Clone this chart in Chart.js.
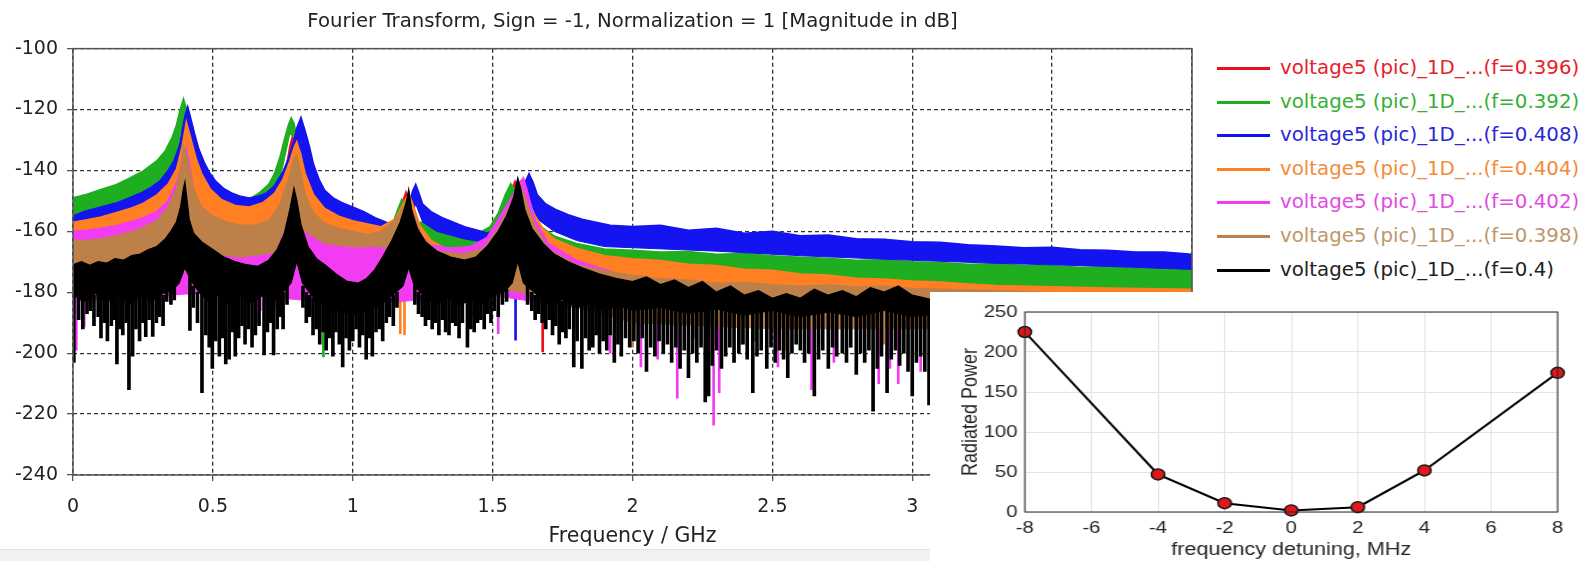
<!DOCTYPE html>
<html>
<head>
<meta charset="utf-8">
<title>Fourier Transform - voltage5</title>
<script src="https://cdn.jsdelivr.net/npm/chart.js@4.4.1/dist/chart.umd.min.js"></script>
<style>
  html, body { margin: 0; padding: 0; background: #fff; }
  body { width: 1580px; height: 561px; position: relative; overflow: hidden; }
  #spectrum { position: absolute; left: 0; top: 0; }
  #legend { position: absolute; left: 1217px; top: 0; font-family: "DejaVu Sans", sans-serif; font-size: 19.8px; }
  .item { position: absolute; left: 0; height: 24px; line-height: 24px; white-space: nowrap; }
  .swatch { position: absolute; left: 0; top: 11px; width: 53px; height: 3px; }
  .text { position: absolute; left: 63px; top: 0; }
  #inset { position: absolute; left: 930px; top: 292px; width: 650px; height: 269px; background: #fff; overflow: hidden; }
  #detuning { position: absolute; left: 0; top: 0; transform: scaleX(1.2); transform-origin: 0 0; }
  #strip { position: absolute; left: 0; top: 549px; width: 930px; height: 12px; background: #f1f1f1; border-top: 1px solid #e2e2e2; }
</style>
</head>
<body>
<canvas id="spectrum" width="1200" height="561"></canvas>
<div id="legend"></div>
<div id="strip"></div>
<div id="inset"><canvas id="detuning" width="542" height="269"></canvas></div>
<script>
// ---- spectrum data: [frequency GHz, magnitude dB] ----
const seriesLabels = [
  'voltage5 (pic)_1D_...(f=0.396)',
  'voltage5 (pic)_1D_...(f=0.392)',
  'voltage5 (pic)_1D_...(f=0.408)',
  'voltage5 (pic)_1D_...(f=0.404)',
  'voltage5 (pic)_1D_...(f=0.402)',
  'voltage5 (pic)_1D_...(f=0.398)',
  'voltage5 (pic)_1D_...(f=0.4)'
];
const seriesColors = ['#e8101a', '#1fae1f', '#1414f0', '#ff7f22', '#f23cf2', '#bd8048', '#000000'];
const labelColors  = ['#e8202a', '#35b035', '#2828d8', '#f58a3a', '#e24ae2', '#c0966a', '#222222'];

// upper edge of each trace
const redTop = [[0,-160],[0.2,-156],[0.3,-151],[0.36,-143],[0.385,-131],[0.395,-126],[0.405,-129],[0.43,-140],[0.5,-152],[0.65,-155],[0.72,-151],[0.76,-140],[0.775,-132],[0.785,-128.5],[0.795,-131],[0.82,-142],[0.88,-155],[1.1,-161],[1.16,-155],[1.19,-147],[1.205,-151],[1.25,-163],[1.45,-167],[1.52,-158],[1.56,-148],[1.58,-143.5],[1.6,-147],[1.65,-158],[1.8,-168],[2.0,-171],[3.0,-178],[4.0,-181]];
const greenTop = [[0,-149],[0.05,-147.8],[0.1,-146.2],[0.15,-144.8],[0.2,-142.6],[0.25,-140.2],[0.3,-136.8],[0.33,-133.5],[0.355,-129],[0.37,-125],[0.383,-120],[0.395,-116.5],[0.405,-119.5],[0.415,-125],[0.43,-133],[0.45,-140],[0.48,-146],[0.52,-150],[0.58,-151],[0.63,-149.5],[0.67,-147],[0.7,-144.5],[0.72,-141],[0.74,-135.5],[0.755,-130],[0.77,-125],[0.78,-122.7],[0.79,-124.5],[0.8,-129],[0.82,-137],[0.85,-148],[0.9,-156],[1.0,-159],[1.1,-160.5],[1.14,-158],[1.16,-153],[1.175,-149.5],[1.19,-152],[1.21,-157],[1.25,-157],[1.3,-157.5],[1.35,-158.5],[1.4,-159],[1.45,-160.5],[1.49,-158.5],[1.52,-154],[1.545,-148],[1.565,-144.3],[1.58,-146.5],[1.6,-151],[1.65,-157],[1.72,-161.5],[1.8,-164],[1.9,-165.8],[2.0,-166.2],[2.1,-166.8],[2.2,-166.6],[2.3,-167.5],[2.4,-167.3],[2.5,-168],[2.6,-168.5],[2.7,-168.8],[2.8,-169.5],[2.9,-169.3],[3.0,-170],[3.1,-170.2],[3.2,-170.8],[3.3,-170.6],[3.4,-171.2],[3.5,-171.3],[3.6,-171.8],[3.7,-171.6],[3.8,-172.2],[3.9,-172],[4.0,-172.5]];
const blueTop = [[0,-155],[0.04,-153.5],[0.08,-152.5],[0.12,-151.5],[0.16,-150.5],[0.2,-149],[0.24,-147.5],[0.28,-145.5],[0.31,-143.5],[0.34,-140],[0.36,-137],[0.38,-132],[0.39,-127],[0.4,-122],[0.41,-119],[0.42,-122.5],[0.435,-128],[0.45,-133],[0.47,-137.5],[0.49,-141],[0.51,-143.5],[0.54,-146],[0.57,-147.5],[0.6,-148.5],[0.63,-149],[0.66,-148.5],[0.69,-147.5],[0.72,-145],[0.75,-140.5],[0.77,-136],[0.79,-130],[0.8,-126],[0.815,-122.5],[0.83,-127],[0.845,-132],[0.86,-138],[0.88,-143],[0.9,-146.5],[0.93,-149],[0.96,-150.5],[1.0,-152],[1.04,-153.5],[1.08,-155.5],[1.12,-157],[1.15,-158],[1.18,-156],[1.2,-151],[1.215,-146.5],[1.225,-144.5],[1.235,-147],[1.25,-151],[1.28,-153.5],[1.32,-155.5],[1.36,-157],[1.4,-158.5],[1.44,-159.5],[1.48,-160.5],[1.52,-159.5],[1.55,-157],[1.58,-153],[1.6,-148.5],[1.615,-144],[1.63,-141],[1.645,-144],[1.66,-148],[1.69,-151],[1.73,-153],[1.77,-154.5],[1.82,-156],[1.87,-157],[1.92,-158],[2.0,-158.4],[2.1,-158],[2.2,-159.6],[2.3,-159],[2.4,-160.6],[2.5,-160],[2.6,-161.4],[2.7,-161.2],[2.8,-162.4],[2.9,-162.6],[3.0,-163.4],[3.1,-163.6],[3.2,-164.4],[3.3,-164.8],[3.4,-165.4],[3.5,-165.2],[3.6,-166],[3.7,-166.2],[3.8,-166.8],[3.9,-166.8],[4.0,-167.5]];
const orangeTop = [[0,-157],[0.05,-156.2],[0.1,-155.3],[0.15,-154],[0.2,-152.6],[0.25,-150.8],[0.3,-148],[0.34,-144.5],[0.37,-139.5],[0.39,-132],[0.405,-124],[0.42,-129],[0.44,-136],[0.46,-141],[0.49,-146],[0.53,-149.5],[0.58,-151.5],[0.63,-152],[0.68,-150.5],[0.72,-147.5],[0.75,-143],[0.775,-137],[0.79,-132.5],[0.8,-130.5],[0.81,-133.5],[0.83,-141],[0.86,-148],[0.9,-152.5],[0.95,-155],[1.0,-156.5],[1.05,-157.5],[1.1,-158.5],[1.15,-156],[1.18,-151],[1.2,-147.5],[1.215,-151],[1.24,-158],[1.28,-163],[1.33,-165.5],[1.4,-166],[1.46,-164.5],[1.51,-160],[1.55,-153],[1.58,-147],[1.6,-143.5],[1.615,-146],[1.64,-153],[1.68,-159],[1.72,-162.5],[1.8,-165.5],[1.9,-168],[2.0,-169],[2.1,-169.6],[2.2,-170.8],[2.3,-171.2],[2.4,-172.4],[2.5,-172.8],[2.6,-174],[2.7,-174.3],[2.8,-175.4],[2.9,-175.6],[3.0,-176.3],[3.1,-176.6],[3.2,-177.3],[3.3,-177.8],[3.5,-178.2],[3.7,-178.6],[4.0,-179]];
const magentaTop = [[0,-160],[0.05,-159.6],[0.1,-159],[0.15,-158.2],[0.2,-157],[0.25,-155.5],[0.3,-153.5],[0.34,-150],[0.37,-144],[0.39,-138],[0.405,-133],[0.415,-137],[0.43,-146],[0.45,-151],[0.47,-156],[0.5,-159.5],[0.55,-162.5],[0.6,-164],[0.65,-164],[0.7,-162],[0.74,-157],[0.77,-149],[0.79,-140],[0.8,-137.5],[0.81,-141],[0.83,-151],[0.86,-159],[0.9,-163.5],[0.95,-165],[1.0,-165.5],[1.05,-165.5],[1.1,-164],[1.14,-160],[1.17,-154],[1.195,-150],[1.215,-155],[1.24,-161],[1.28,-164.5],[1.35,-165.5],[1.42,-165],[1.48,-162],[1.52,-156],[1.56,-150],[1.59,-145],[1.61,-142.3],[1.625,-147],[1.65,-156],[1.7,-164],[1.8,-169.5],[1.9,-172.5],[2.0,-175.5],[2.2,-177],[2.5,-178.5],[2.8,-179.5],[3.0,-180],[3.5,-182],[4.0,-183]];
const brownTop = [[0,-163],[0.05,-163],[0.1,-162.4],[0.15,-161.6],[0.2,-160.4],[0.25,-158.8],[0.3,-156.5],[0.34,-152],[0.37,-146],[0.385,-139],[0.395,-132],[0.405,-134.5],[0.415,-139],[0.43,-146],[0.46,-152],[0.5,-155],[0.55,-157],[0.6,-158],[0.65,-158],[0.7,-156.5],[0.74,-151],[0.77,-143],[0.79,-136],[0.8,-135],[0.81,-139],[0.83,-148],[0.86,-154],[0.9,-157.5],[0.95,-159],[1.0,-160],[1.05,-161],[1.1,-160],[1.15,-156.5],[1.18,-152],[1.2,-149],[1.22,-155],[1.25,-162],[1.3,-166.5],[1.4,-167.5],[1.47,-165.5],[1.52,-159],[1.56,-152],[1.59,-146],[1.6,-145],[1.62,-150],[1.65,-158],[1.7,-166],[1.8,-171],[1.9,-173],[2.0,-174.5],[2.1,-175.5],[2.2,-176],[2.3,-177],[2.4,-176.8],[2.5,-177.5],[2.6,-178],[2.7,-177.6],[2.8,-178.3],[2.9,-178],[3.0,-178.8],[3.3,-179.5],[3.6,-180.5],[4.0,-181]];
const blackTop = [[0,-171],[0.03,-170],[0.06,-171.2],[0.09,-170],[0.12,-170.5],[0.15,-169],[0.18,-169.5],[0.21,-168],[0.24,-167.5],[0.27,-166],[0.3,-165],[0.33,-162.5],[0.35,-160],[0.37,-157],[0.385,-152],[0.395,-146],[0.4,-144],[0.405,-148],[0.415,-156],[0.43,-160.5],[0.46,-163.5],[0.5,-166],[0.54,-168.5],[0.58,-170],[0.62,-171],[0.66,-171.5],[0.7,-169.5],[0.73,-166],[0.755,-161],[0.775,-153],[0.79,-146],[0.8,-150],[0.815,-158],[0.84,-165],[0.87,-169],[0.9,-171],[0.94,-174],[0.98,-176.5],[1.02,-177],[1.05,-175.5],[1.08,-172.5],[1.11,-168],[1.14,-163],[1.17,-157],[1.19,-151],[1.2,-146.5],[1.21,-153],[1.23,-159],[1.26,-163.5],[1.3,-166.5],[1.35,-168.5],[1.4,-169.5],[1.44,-168.5],[1.48,-165],[1.52,-160],[1.55,-155],[1.575,-149],[1.59,-142.6],[1.6,-146],[1.615,-153],[1.64,-159],[1.68,-164],[1.72,-167.5],[1.77,-170],[1.82,-172],[1.88,-174],[1.94,-175.5],[2.0,-176.5],[2.05,-175],[2.1,-177.5],[2.15,-176],[2.2,-178.5],[2.25,-176.5],[2.3,-180],[2.35,-178],[2.4,-181],[2.45,-179.5],[2.5,-182],[2.55,-180.5],[2.6,-182],[2.65,-179],[2.7,-181],[2.75,-179.5],[2.8,-181.5],[2.85,-178.5],[2.9,-180],[2.95,-178],[3.0,-181],[3.05,-182],[3.1,-183],[3.3,-183.5],[3.6,-184],[4.0,-185]];

// lower edge of the solid part of each trace
const redFloor = [[0,-178],[0.36,-165],[0.395,-140],[0.43,-162],[0.7,-172],[0.775,-145],[0.795,-145],[0.84,-168],[1.17,-170],[1.19,-160],[1.21,-170],[1.56,-165],[1.58,-155],[1.6,-165],[2.0,-184],[4.0,-190]];
const greenFloor = [[0,-165],[0.3,-158],[0.36,-142],[0.385,-127],[0.4,-128],[0.42,-138],[0.5,-160],[0.68,-158],[0.74,-143],[0.775,-128],[0.79,-129],[0.81,-140],[0.85,-160],[1.0,-170],[1.15,-165],[1.175,-156],[1.2,-165],[1.25,-168],[1.5,-168],[1.55,-156],[1.565,-150],[1.6,-160],[1.7,-172],[4.0,-182]];
const blueFloor = [[0,-170],[0.35,-160],[0.39,-134],[0.41,-129],[0.43,-133],[0.47,-147],[0.55,-165],[0.75,-158],[0.79,-137],[0.815,-133],[0.835,-142],[0.88,-155],[0.95,-157],[1.1,-162],[1.17,-163],[1.2,-158],[1.225,-151],[1.25,-157],[1.3,-160],[1.4,-162.5],[1.5,-164],[1.58,-158],[1.63,-149],[1.66,-156],[1.72,-160],[1.8,-163],[1.9,-165],[2.3,-166.5],[2.6,-168],[3.0,-169.5],[3.3,-170.5],[3.7,-171.5],[4.0,-172.5]];
const orangeFloor = [[0,-176],[0.4,-166],[0.8,-166],[1.2,-172],[1.6,-170],[2.0,-182],[4.0,-188]];
const magentaFloor = [[0,-183],[0.5,-180],[1.0,-184],[1.5,-181],[2.0,-188],[4.0,-192]];
const brownFloor = [[0,-181],[0.3,-178],[0.38,-168],[0.43,-163],[0.47,-167],[0.6,-168.5],[0.72,-167],[0.78,-154],[0.83,-160],[0.9,-164],[1.0,-165],[1.1,-165],[1.15,-166],[1.2,-172],[1.5,-178],[1.7,-182],[2.0,-190],[2.5,-192],[3.0,-192],[4.0,-192]];
const blackFloor = [[0,-181],[0.04,-183],[0.08,-180.5],[0.12,-183.5],[0.16,-181],[0.2,-184],[0.24,-181.5],[0.28,-183],[0.32,-180.5],[0.36,-179],[0.38,-177],[0.4,-172],[0.42,-176],[0.45,-180],[0.48,-183],[0.52,-181],[0.56,-184],[0.6,-181.5],[0.64,-183.5],[0.68,-181],[0.72,-183],[0.75,-180],[0.78,-177],[0.8,-170],[0.82,-177],[0.86,-182],[0.9,-184.5],[0.95,-186],[1.0,-187.5],[1.05,-186],[1.09,-184.5],[1.13,-182],[1.18,-178],[1.2,-172],[1.22,-178],[1.26,-182],[1.3,-184],[1.34,-182],[1.38,-184.5],[1.42,-182.5],[1.46,-184],[1.5,-181],[1.54,-180],[1.57,-177],[1.59,-170],[1.61,-177],[1.66,-181],[1.7,-183.5],[1.75,-182.5],[1.8,-185],[1.85,-184],[1.9,-186],[1.95,-184.5],[2.0,-186],[2.1,-185],[2.2,-187],[2.3,-185.5],[2.4,-187.5],[2.5,-186],[2.6,-188],[2.7,-186.5],[2.8,-188],[2.9,-186],[3.0,-188],[3.1,-187],[4.0,-189]];

// deep notches: [frequency GHz, from dB, to dB]
const redSpikes = [[1.679,-182,-199.6]];
const greenSpikes = [[0.895,-180,-201.2],[2.44,-184,-196]];
const blueSpikes = [[1.582,-180,-195.7]];
const orangeSpikes = [[1.17,-182,-193.6],[1.185,-182,-194]];
const magentaSpikes = [[0.012,-172,-199],[0.04,-178,-191.4],[0.62,-178,-184],[0.67,-178,-186],[0.72,-178,-185],[0.88,-180,-184],[0.935,-182,-188],[0.99,-184,-191],[1.04,-183,-187],[1.33,-180,-185],[1.43,-180,-188],[1.52,-180,-193.6],[1.76,-182,-192],[1.92,-184,-200],[2.03,-185,-204.5],[2.09,-185,-202],[2.16,-186,-214.8],[2.29,-186,-223.6],[2.31,-186,-213],[2.52,-187,-204.5],[2.64,-187,-212],[2.72,-187,-203],[2.88,-187,-210],[2.92,-187,-205],[2.95,-187,-210],[3.03,-187,-206]];
const brownSpikes = [[2.0,-188,-198],[2.22,-189,-195],[2.39,-190,-197],[2.55,-190,-199],[2.7,-190,-204],[2.78,-190,-198],[2.9,-190,-197]];
const blackSpikes = [
  [0.003,-181,-203],[0.02,-181,-189],[0.035,-181,-192],[0.05,-181,-187],[0.062,-181,-186],[0.075,-181,-191],[0.09,-181,-188],[0.1,-181,-195],[0.112,-181,-190],[0.123,-181,-196],[0.137,-181,-191],[0.148,-181,-189],[0.157,-181,-203.5],[0.168,-181,-192],[0.178,-181,-194],[0.19,-181,-190],[0.2,-181,-212],[0.213,-181,-201],[0.225,-181,-192],[0.238,-181,-196],[0.25,-181,-190],[0.26,-181,-194.6],[0.272,-181,-189],[0.285,-181,-194.5],[0.298,-181,-190],[0.31,-181,-188],[0.322,-181,-191],[0.335,-180,-183],[0.35,-179,-184],[0.362,-178,-182.5],
  [0.418,-175,-192.5],[0.43,-178,-185],[0.445,-180,-190],[0.461,-180,-213],[0.475,-181,-194],[0.487,-181,-198],[0.498,-181,-205],[0.51,-181,-196],[0.523,-181,-201],[0.535,-181,-195],[0.546,-181,-203.5],[0.558,-181,-202],[0.57,-181,-193],[0.58,-181,-201],[0.592,-181,-195],[0.604,-181,-191],[0.615,-181,-197],[0.627,-181,-192],[0.64,-181,-198],[0.652,-181,-194],[0.665,-181,-191],[0.683,-181,-200.6],[0.695,-181,-193],[0.707,-181,-190],[0.717,-181,-200.6],[0.73,-181,-192],[0.741,-180,-188],[0.751,-180,-192],[0.765,-178,-184],
  [0.822,-178,-185],[0.834,-180,-190],[0.846,-181,-188],[0.858,-182,-194],[0.87,-182,-192],[0.882,-183,-197],[0.894,-183,-193],[0.905,-183,-199],[0.917,-184,-195],[0.929,-184,-201],[0.94,-185,-193],[0.952,-185,-197],[0.964,-185,-204.5],[0.976,-186,-195],[0.988,-186,-199],[1.0,-186,-196],[1.012,-186,-192],[1.024,-186,-198],[1.036,-186,-194],[1.048,-186,-202],[1.06,-185,-195],[1.07,-185,-201],[1.083,-184,-193],[1.095,-184,-192],[1.107,-183,-196],[1.12,-182,-190],[1.132,-182,-188],[1.145,-181,-191],[1.158,-180,-185],
  [1.222,-178,-184],[1.235,-180,-187],[1.248,-181,-188],[1.26,-182,-191],[1.272,-182,-189],[1.284,-182,-192],[1.296,-182,-190],[1.308,-182,-194],[1.32,-182,-189],[1.332,-182,-193],[1.344,-182,-194],[1.356,-182,-190],[1.368,-182,-191],[1.38,-182,-195],[1.392,-182,-190],[1.41,-182,-198],[1.422,-182,-192],[1.434,-181,-193],[1.446,-181,-190],[1.458,-181,-189],[1.47,-181,-192],[1.482,-181,-187],[1.494,-181,-190],[1.506,-181,-186],[1.52,-180,-188],[1.535,-180,-184],[1.55,-179,-183],
  [1.625,-178,-184],[1.64,-180,-186],[1.652,-181,-189],[1.665,-181,-187],[1.677,-182,-190],[1.69,-182,-192],[1.702,-182,-189],[1.714,-182,-194],[1.726,-183,-191],[1.738,-183,-197],[1.75,-183,-193],[1.762,-183,-195],[1.774,-183,-192],[1.79,-184,-204.5],[1.802,-184,-196],[1.819,-184,-205],[1.832,-184,-195],[1.845,-184,-199],[1.858,-184,-198],[1.87,-184,-194],[1.882,-184,-200],[1.895,-184,-196],[1.908,-184,-199],[1.92,-184,-194],[1.935,-184,-203],[1.948,-184,-197],[1.96,-184,-201],[1.975,-184,-195],[1.99,-184,-198],[2.005,-184,-196],[2.02,-184,-200],[2.035,-184,-195],[2.05,-184,-206],[2.065,-184,-198],[2.08,-184,-201],[2.095,-184,-196],[2.11,-184,-200],[2.125,-184,-197],[2.14,-184,-203],[2.155,-184,-198],[2.17,-184,-205],[2.185,-184,-199],[2.2,-184,-208],[2.215,-184,-200],[2.23,-184,-203],[2.245,-184,-198],[2.26,-185,-216],[2.272,-185,-214],[2.285,-185,-204],[2.3,-185,-199],[2.318,-185,-205],[2.333,-185,-201],[2.348,-185,-198],[2.363,-185,-203],[2.38,-185,-200],[2.395,-185,-197],[2.41,-185,-202],[2.43,-185,-213],[2.445,-185,-201],[2.46,-185,-199],[2.48,-185,-205],[2.495,-185,-198],
  [2.51,-186,-203],[2.525,-186,-199],[2.54,-186,-202],[2.555,-186,-208],[2.57,-186,-200],[2.585,-186,-197],[2.6,-186,-199],[2.615,-186,-203],[2.63,-186,-200],[2.65,-186,-214],[2.665,-186,-202],[2.68,-186,-199],[2.7,-186,-205],[2.715,-186,-198],[2.73,-186,-201],[2.75,-186,-200],[2.765,-186,-203],[2.78,-186,-198],[2.8,-186,-207],[2.815,-186,-200],[2.83,-186,-203],[2.845,-186,-199],[2.86,-186,-219],[2.875,-186,-205],[2.89,-186,-201],[2.91,-186,-213],[2.925,-186,-202],[2.94,-186,-199],[2.955,-186,-204],[2.97,-186,-200],[2.985,-186,-206],[3.0,-186,-214],[3.015,-186,-203],[3.03,-186,-201],[3.045,-186,-206],[3.06,-186,-217],[3.075,-186,-204]
];

const yTicksDb = [-240, -100, 20];     // min, max, step
const xTicksGHz = [0, 4, 0.5];

// ---- inset: radiated power vs detuning ----
const detuningMHz = [-8, -4, -2, 0, 2, 4, 8];
const radiatedPower = [225, 47, 11, 2, 6, 52, 174];

const seriesTops = [redTop, greenTop, blueTop, orangeTop, magentaTop, brownTop, blackTop];
const seriesFloors = [redFloor, greenFloor, blueFloor, orangeFloor, magentaFloor, brownFloor, blackFloor];
const seriesSpikes = [redSpikes, greenSpikes, blueSpikes, orangeSpikes, magentaSpikes, brownSpikes, blackSpikes];

Chart.defaults.font.family = '"DejaVu Sans", sans-serif';
Chart.defaults.color = '#222';

// outline of the plot area (all four sides)
const frameBox = {
  id: 'frameBox',
  afterDraw(chart, args, opts) {
    const {ctx, chartArea: a} = chart;
    ctx.save();
    ctx.strokeStyle = opts.color;
    ctx.lineWidth = opts.width;
    ctx.strokeRect(a.left, a.top, a.right - a.left, a.bottom - a.top);
    ctx.restore();
  }
};

const toPoints = arr => arr.map(p => ({x: p[0], y: p[1]}));

function buildDatasets() {
  const sets = [];
  // later traces are painted over earlier ones, so push them first
  for (let i = seriesLabels.length - 1; i >= 0; i--) {
    const color = seriesColors[i];
    sets.push({
      label: seriesLabels[i],
      data: toPoints(seriesTops[i]),
      borderColor: color,
      backgroundColor: color,
      borderWidth: 1.5,
      pointRadius: 0,
      tension: 0,
      fill: '+1'
    });
    sets.push({
      data: toPoints(seriesFloors[i]),
      borderColor: color,
      borderWidth: 1,
      pointRadius: 0,
      tension: 0,
      fill: false
    });
    sets.push({
      type: 'bar',
      data: seriesSpikes[i].map(s => ({x: s[0], y: [s[1], s[2]]})),
      backgroundColor: color,
      borderWidth: 0,
      barThickness: i === 6 ? 3 : 2,
      grouped: false
    });
  }
  return sets;
}

function buildLegend() {
  const box = document.getElementById('legend');
  seriesLabels.forEach((label, i) => {
    const row = document.createElement('div');
    row.className = 'item';
    row.style.top = (56 + i * 33.6) + 'px';
    const sw = document.createElement('span');
    sw.className = 'swatch';
    sw.style.background = seriesColors[i];
    const tx = document.createElement('span');
    tx.className = 'text';
    tx.style.color = labelColors[i];
    tx.textContent = label;
    row.appendChild(sw);
    row.appendChild(tx);
    box.appendChild(row);
  });
}

function drawSpectrum() {
  new Chart(document.getElementById('spectrum'), {
    type: 'line',
    data: { datasets: buildDatasets() },
    options: {
      responsive: false,
      animation: false,
      events: [],
      layout: { padding: { left: 0, right: 8, top: 0, bottom: 0 } },
      plugins: {
        legend: { display: false },
        tooltip: { enabled: false },
        title: {
          display: true,
          fullSize: false,
          text: 'Fourier Transform, Sign = -1, Normalization = 1 [Magnitude in dB]',
          font: { size: 19.7, weight: 'normal' },
          color: '#222',
          padding: { top: 10, bottom: 15 }
        },
        frameBox: { color: '#555', width: 1.5 }
      },
      scales: {
        x: {
          type: 'linear',
          min: xTicksGHz[0], max: xTicksGHz[1],
          offset: false,
          ticks: { stepSize: xTicksGHz[2], font: { size: 19 }, color: '#222', padding: 15, maxRotation: 0, callback: v => String(v) },
          grid: { offset: false, color: '#333', lineWidth: 1.3, tickLength: 6, tickColor: '#555', tickBorderDash: [] },
          border: { display: false, dash: [4, 3] },
          title: { display: true, text: 'Frequency / GHz', font: { size: 20.5 }, color: '#222', padding: { top: 0, bottom: 12 } },
          afterFit: s => { s.height = 86; s.paddingLeft = 0; s.paddingRight = 0; }
        },
        y: {
          min: yTicksDb[0], max: yTicksDb[1],
          ticks: { stepSize: yTicksDb[2], font: { size: 19 }, color: '#222', padding: 9, callback: v => String(v) },
          grid: { color: '#333', lineWidth: 1.3, tickLength: 6, tickColor: '#555', tickBorderDash: [] },
          border: { display: false, dash: [4, 3] },
          afterFit: s => { s.width = 73; }
        }
      }
    },
    plugins: [frameBox]
  });
}

function drawDetuning() {
  const tickFont = { family: '"Liberation Sans", Arial, sans-serif', size: 17 };
  const titleFont = { family: '"Liberation Sans", Arial, sans-serif', size: 18 };
  new Chart(document.getElementById('detuning'), {
    type: 'line',
    data: {
      datasets: [{
        data: detuningMHz.map((x, i) => ({x: x, y: radiatedPower[i]})),
        borderColor: '#000',
        borderWidth: 2,
        tension: 0,
        pointRadius: 5.5,
        pointBackgroundColor: '#e3161b',
        pointBorderColor: '#1a1a1a',
        pointBorderWidth: 1.5,
        clip: false
      }]
    },
    options: {
      responsive: false,
      animation: false,
      events: [],
      layout: { padding: { top: 20, right: 19, left: 0, bottom: 0 } },
      plugins: {
        legend: { display: false },
        tooltip: { enabled: false },
        frameBox: { color: '#262626', width: 1 }
      },
      scales: {
        x: {
          type: 'linear', min: -8, max: 8,
          ticks: { stepSize: 2, font: tickFont, color: '#262626', padding: 6, maxRotation: 0 },
          grid: { color: '#e4e4e4', lineWidth: 1, drawTicks: false },
          border: { display: false },
          title: { display: true, text: 'frequency detuning, MHz', font: titleFont, color: '#262626', padding: { top: 0, bottom: 0 } },
          afterFit: s => { s.height = 49; }
        },
        y: {
          min: 0, max: 250,
          ticks: { stepSize: 50, font: tickFont, color: '#262626', padding: 6 },
          grid: { color: '#e4e4e4', lineWidth: 1, drawTicks: false },
          border: { display: false },
          title: { display: true, text: 'Radiated Power', font: titleFont, color: '#262626', padding: { top: 23, bottom: 0 } },
          afterFit: s => { s.width = 79; }
        }
      }
    },
    plugins: [frameBox]
  });
}

buildLegend();
drawSpectrum();
drawDetuning();
</script>
</body>
</html>
